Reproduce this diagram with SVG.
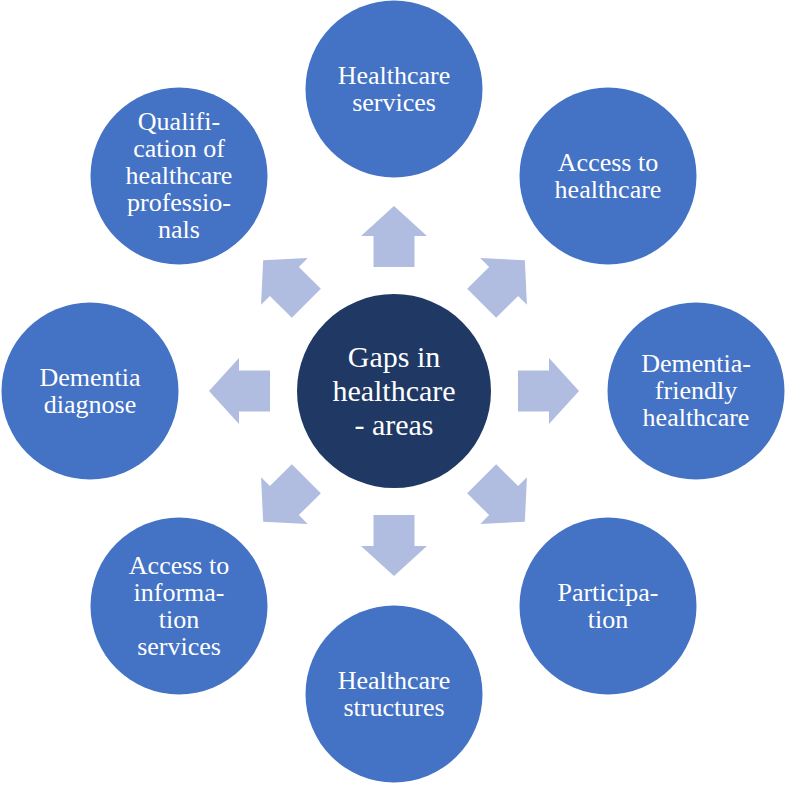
<svg xmlns="http://www.w3.org/2000/svg" width="786" height="785" viewBox="0 0 786 785">
  <style>
    .outer { fill: #4472C4; }
    .center { fill: #203864; }
    .arrow { fill: #B0BDE0; }
    text { font-family: "Liberation Serif", "Times New Roman", serif; fill: #FFFFFF; text-anchor: middle; }
    .t { font-size: 26px; }
    .tc { font-size: 30px; }
  </style>
  <defs>
    <path id="arr" d="M124,-20.5 L155,-20.5 L155,-33 L185,0 L155,33 L155,20.5 L124,20.5 Z"/>
  </defs>
  <rect width="786" height="785" fill="#FFFFFF"/>
  <g id="connectors" class="arrow">
    <use href="#arr" transform="translate(394,391) rotate(-90)"/>
    <use href="#arr" transform="translate(394,391) rotate(-45)"/>
    <use href="#arr" transform="translate(394,391) rotate(0)"/>
    <use href="#arr" transform="translate(394,391) rotate(45)"/>
    <use href="#arr" transform="translate(394,391) rotate(90)"/>
    <use href="#arr" transform="translate(394,391) rotate(135)"/>
    <use href="#arr" transform="translate(394,391) rotate(180)"/>
    <use href="#arr" transform="translate(394,391) rotate(-135)"/>
  </g>
  <g id="center">
    <circle class="center" cx="394" cy="391" r="97"/>
    <text class="tc" x="394" y="367">Gaps in</text>
    <text class="tc" x="394" y="401">healthcare</text>
    <text class="tc" x="394" y="435">- areas</text>
  </g>
  <g id="healthcare-services">
    <circle class="outer" cx="394" cy="89" r="88.5"/>
    <text class="t" x="394" y="83.5">Healthcare</text>
    <text class="t" x="394" y="110.5">services</text>
  </g>
  <g id="access-to-healthcare">
    <circle class="outer" cx="608" cy="176" r="88.5"/>
    <text class="t" x="608" y="170.5">Access to</text>
    <text class="t" x="608" y="197.5">healthcare</text>
  </g>
  <g id="dementia-friendly-healthcare">
    <circle class="outer" cx="696" cy="391" r="88.5"/>
    <text class="t" x="696" y="372">Dementia-</text>
    <text class="t" x="696" y="399">friendly</text>
    <text class="t" x="696" y="426">healthcare</text>
  </g>
  <g id="participation">
    <circle class="outer" cx="608" cy="606" r="88.5"/>
    <text class="t" x="608" y="600.5">Participa-</text>
    <text class="t" x="608" y="627.5">tion</text>
  </g>
  <g id="healthcare-structures">
    <circle class="outer" cx="394" cy="694" r="88.5"/>
    <text class="t" x="394" y="688.5">Healthcare</text>
    <text class="t" x="394" y="715.5">structures</text>
  </g>
  <g id="access-to-information-services">
    <circle class="outer" cx="179" cy="606" r="88.5"/>
    <text class="t" x="179" y="573.5">Access to</text>
    <text class="t" x="179" y="600.5">informa-</text>
    <text class="t" x="179" y="627.5">tion</text>
    <text class="t" x="179" y="654.5">services</text>
  </g>
  <g id="dementia-diagnose">
    <circle class="outer" cx="90" cy="391" r="88.5"/>
    <text class="t" x="90" y="385.5">Dementia</text>
    <text class="t" x="90" y="412.5">diagnose</text>
  </g>
  <g id="qualification-of-healthcare-professionals">
    <circle class="outer" cx="179" cy="176" r="88.5"/>
    <text class="t" x="179" y="130">Qualifi-</text>
    <text class="t" x="179" y="157">cation of</text>
    <text class="t" x="179" y="184">healthcare</text>
    <text class="t" x="179" y="211">professio-</text>
    <text class="t" x="179" y="238">nals</text>
  </g>
</svg>
